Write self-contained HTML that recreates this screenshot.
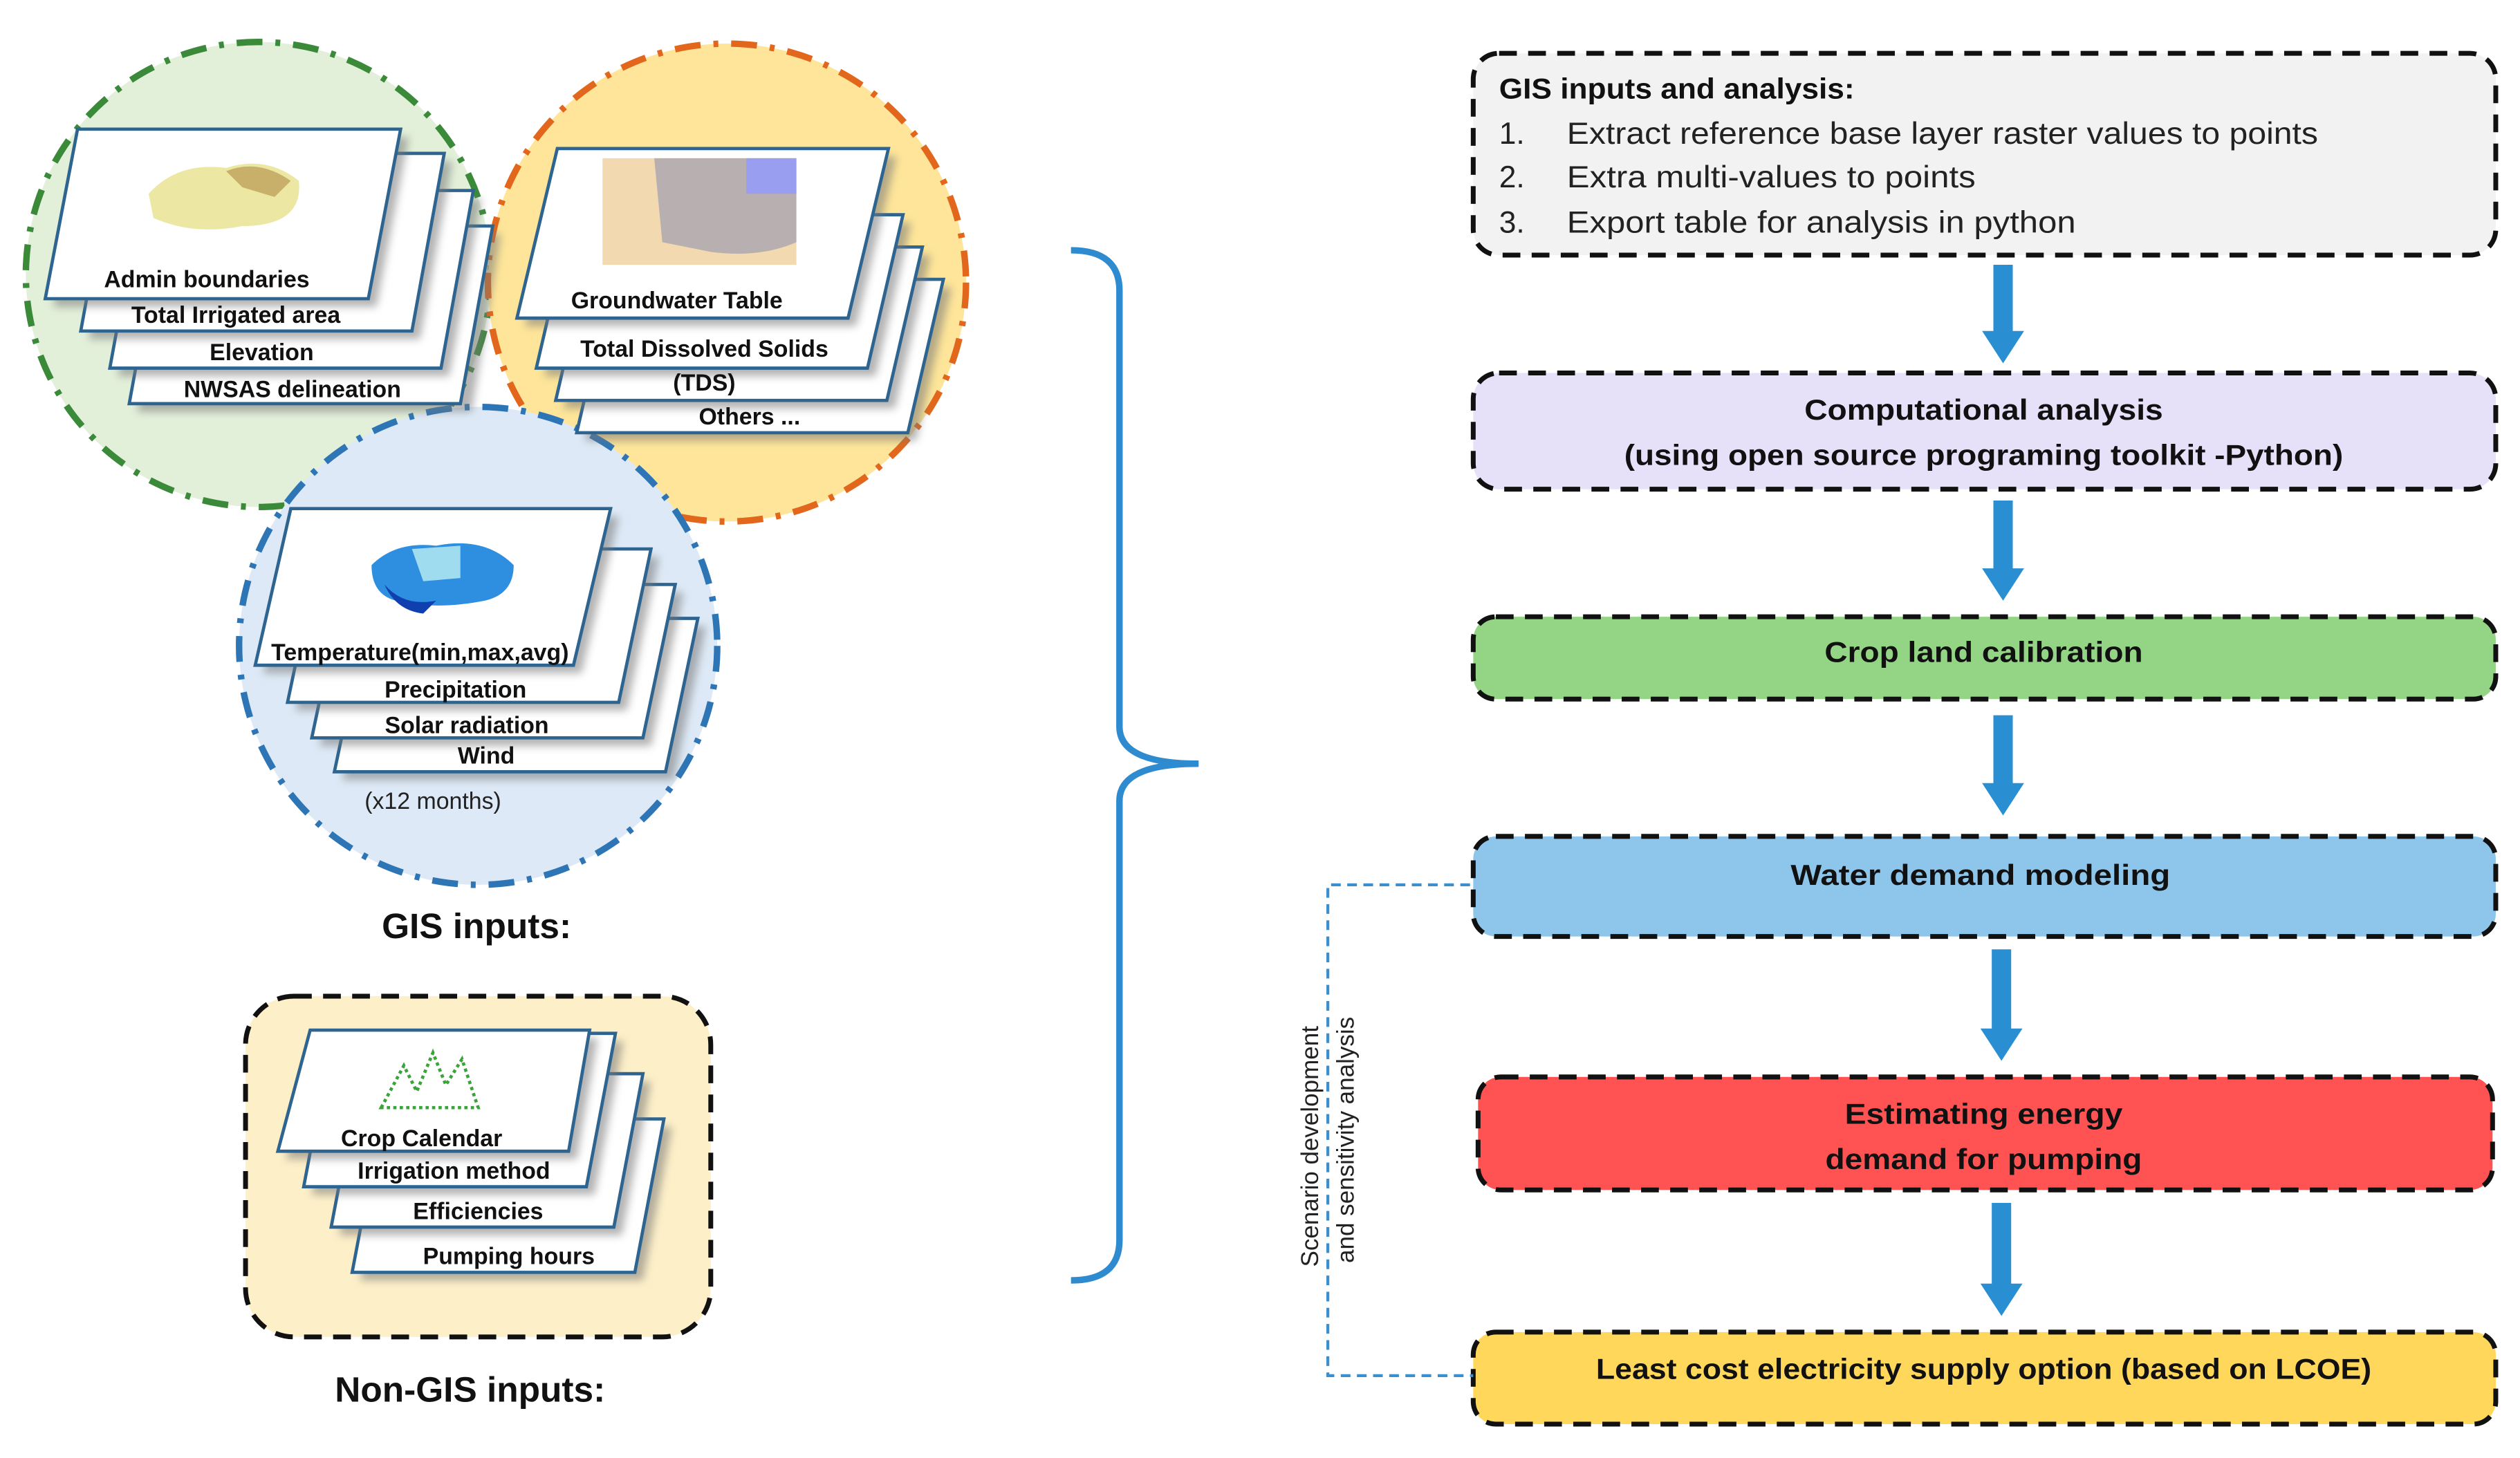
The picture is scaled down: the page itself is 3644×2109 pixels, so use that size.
<!DOCTYPE html>
<html><head><meta charset="utf-8"><style>
html,body{margin:0;padding:0;background:#fff;}
svg{display:block;}
text{font-family:"Liberation Sans",sans-serif;}
.c{font-weight:bold;font-size:14.5px;text-anchor:middle;fill:#111;}
.bx{font-weight:bold;font-size:18px;text-anchor:middle;fill:#111;}
.card{fill:#fff;stroke:#2e6490;stroke-width:2;}
.sh{fill:#777;opacity:.55;filter:url(#bl);}
</style></head><body>
<svg width="3644" height="2109" viewBox="0 0 1560 903" preserveAspectRatio="none" xmlns="http://www.w3.org/2000/svg">
<defs>
<filter id="bl" x="-10%" y="-10%" width="120%" height="130%"><feGaussianBlur stdDeviation="2.5"/></filter>
<marker id="m" viewBox="0 0 10 10" refX="5" refY="5" markerWidth="1" markerHeight="1"/>
</defs>

<!-- circles -->
<circle cx="160" cy="170" r="144" fill="#e2efd9" stroke="#3a8a3a" stroke-width="4" stroke-dasharray="16 8 3 8"/>
<circle cx="450" cy="175" r="148" fill="#fee599" stroke="#e2671c" stroke-width="4" stroke-dasharray="16 8 3 8"/>
<circle cx="296" cy="400" r="148" fill="#dde9f6" stroke="#2e75b6" stroke-width="4" stroke-dasharray="16 8 3 8"/>

<!-- green stack -->
<g>
<polygon class="sh" points="105,145 310,145 292,255 85,255"/>
<polygon class="card" points="100,140 305,140 285,250 80,250"/>
<polygon class="sh" points="93,123 298,123 278,233 73,233"/>
<polygon class="card" points="88,118 293,118 273,228 68,228"/>
<polygon class="sh" points="75,100 280,100 260,210 55,210"/>
<polygon class="card" points="70,95 275,95 255,205 50,205"/>
<polygon class="sh" points="53,85 253,85 233,190 33,190"/>
<polygon class="card" points="48,80 248,80 228,185 28,185"/>
<rect x="86" y="90" width="110" height="68" fill="#fff"/>
<path d="M92,120 Q110,100 140,104 Q165,96 185,112 Q188,140 150,140 Q120,146 95,135 Z" fill="#ece7a2"/>
<path d="M140,106 Q160,98 180,112 L170,122 L150,116 Z" fill="#c9b06a"/>
<text class="c" x="128" y="178">Admin boundaries</text>
<text class="c" x="146" y="200">Total Irrigated area</text>
<text class="c" x="162" y="223">Elevation</text>
<text class="c" x="181" y="246">NWSAS delineation</text>
</g>

<!-- orange stack -->
<g>
<polygon class="sh" points="384,178 589,178 567,273 362,273"/>
<polygon class="card" points="379,173 584,173 562,268 357,268"/>
<polygon class="sh" points="371,158 576,158 554,253 349,253"/>
<polygon class="card" points="366,153 571,153 549,248 344,248"/>
<polygon class="sh" points="359,138 564,138 542,233 337,233"/>
<polygon class="card" points="354,133 559,133 537,228 332,228"/>
<polygon class="sh" points="350,97 555,97 530,202 325,202"/>
<polygon class="card" points="345,92 550,92 525,197 320,197"/>
<rect x="373" y="98" width="120" height="66" fill="#f2d9b0"/>
<path d="M405,98 L493,98 L493,150 Q470,160 440,156 L410,150 Z" fill="#b8b0b0"/>
<rect x="462" y="98" width="31" height="22" fill="#9a9ef0"/>
<text class="c" x="419" y="191">Groundwater Table</text>
<text class="c" x="436" y="221">Total Dissolved Solids</text>
<text class="c" x="436" y="242">(TDS)</text>
<text class="c" x="464" y="263">Others ...</text>
</g>

<!-- blue stack -->
<g>
<polygon class="sh" points="232,388 437,388 417,483 212,483"/>
<polygon class="card" points="227,383 432,383 412,478 207,478"/>
<polygon class="sh" points="218,367 423,367 403,462 198,462"/>
<polygon class="card" points="213,362 418,362 398,457 193,457"/>
<polygon class="sh" points="203,345 408,345 388,440 183,440"/>
<polygon class="card" points="198,340 403,340 383,435 178,435"/>
<polygon class="sh" points="185,320 383,320 360,417 163,417"/>
<polygon class="card" points="180,315 378,315 355,412 158,412"/>
<rect x="224" y="322" width="96" height="66" fill="#fff"/>
<path d="M230,350 Q245,335 270,338 Q300,332 318,350 Q318,368 300,372 Q270,378 245,372 Q230,368 230,350 Z" fill="#2e8ee0"/>
<path d="M255,340 L285,338 L285,358 L262,360 Z" fill="#9fdcef"/>
<path d="M238,362 Q250,376 270,372 L262,380 Q245,378 238,362 Z" fill="#1040b0"/>
<text class="c" x="260" y="409">Temperature(min,max,avg)</text>
<text class="c" x="282" y="432">Precipitation</text>
<text class="c" x="289" y="454">Solar radiation</text>
<text class="c" x="301" y="473">Wind</text>
<text x="268" y="501" style="font-size:14.5px;text-anchor:middle;fill:#222">(x12 months)</text>
</g>

<text x="295" y="581" style="font-weight:bold;font-size:22px;text-anchor:middle;fill:#111">GIS inputs:</text>

<!-- non-GIS -->
<rect x="152" y="617" width="288" height="211" rx="30" fill="#fdefc8" stroke="#111" stroke-width="3" stroke-dasharray="11 7"/>
<g>
<polygon class="sh" points="241,698 416,698 398,793 223,793"/>
<polygon class="card" points="236,693 411,693 393,788 218,788"/>
<polygon class="sh" points="228,670 403,670 385,765 210,765"/>
<polygon class="card" points="223,665 398,665 380,760 205,760"/>
<polygon class="sh" points="211,645 386,645 368,740 193,740"/>
<polygon class="card" points="206,640 381,640 363,735 188,735"/>
<polygon class="sh" points="197,643 370,643 357,718 177,718"/>
<polygon class="card" points="192,638 365,638 352,713 172,713"/>
<rect x="230" y="644" width="72" height="48" fill="#fff"/>
<path d="M236,686 L250,660 L258,676 L268,652 L276,672 L286,656 L296,686 Z" fill="none" stroke="#3aa33a" stroke-width="2" stroke-dasharray="2 2"/>
<text class="c" x="261" y="710">Crop Calendar</text>
<text class="c" x="281" y="730">Irrigation method</text>
<text class="c" x="296" y="755">Efficiencies</text>
<text class="c" x="315" y="783">Pumping hours</text>
</g>
<text x="291" y="868" style="font-weight:bold;font-size:22px;text-anchor:middle;fill:#111">Non-GIS inputs:</text>

<!-- brace -->
<path d="M663,155 Q693,155 693,180 L693,450 Q693,473 742,473 Q693,473 693,496 L693,768 Q693,793 663,793" fill="none" stroke="#2e8bd0" stroke-width="4"/>

<!-- right boxes -->
<rect x="912" y="33" width="633" height="125" rx="16" fill="#f2f2f2" stroke="#111" stroke-width="3" stroke-dasharray="11 7"/>
<text x="928" y="61" style="font-weight:bold;font-size:18px;fill:#111" textLength="220" lengthAdjust="spacingAndGlyphs">GIS inputs and analysis:</text>
<g style="font-size:19px;fill:#222">
<text x="928" y="89">1.</text><text x="970" y="89" textLength="465" lengthAdjust="spacingAndGlyphs">Extract reference base layer raster values to points</text>
<text x="928" y="116">2.</text><text x="970" y="116" textLength="253" lengthAdjust="spacingAndGlyphs">Extra multi-values to points</text>
<text x="928" y="144">3.</text><text x="970" y="144" textLength="315" lengthAdjust="spacingAndGlyphs">Export table for analysis in python</text>
</g>

<rect x="912" y="231" width="633" height="72" rx="16" fill="#e6e0f8" stroke="#111" stroke-width="3" stroke-dasharray="11 7"/>
<text class="bx" x="1228" y="260" textLength="222" lengthAdjust="spacingAndGlyphs">Computational analysis</text>
<text class="bx" x="1228" y="288" textLength="445" lengthAdjust="spacingAndGlyphs">(using open source programing toolkit -Python)</text>

<rect x="912" y="382" width="633" height="51" rx="14" fill="#93d585" stroke="#111" stroke-width="3" stroke-dasharray="11 7"/>
<text class="bx" x="1228" y="410" textLength="197" lengthAdjust="spacingAndGlyphs">Crop land calibration</text>

<rect x="912" y="518" width="633" height="62" rx="14" fill="#8ec5ea" stroke="#111" stroke-width="3" stroke-dasharray="11 7"/>
<text class="bx" x="1226" y="548" textLength="235" lengthAdjust="spacingAndGlyphs">Water demand modeling</text>

<rect x="915" y="667" width="628" height="70" rx="14" fill="#ff5353" stroke="#111" stroke-width="3" stroke-dasharray="11 7"/>
<text class="bx" x="1228" y="696" textLength="172" lengthAdjust="spacingAndGlyphs">Estimating energy</text>
<text class="bx" x="1228" y="724" textLength="196" lengthAdjust="spacingAndGlyphs">demand for pumping</text>

<rect x="912" y="825" width="633" height="57" rx="14" fill="#ffd75a" stroke="#111" stroke-width="3" stroke-dasharray="11 7"/>
<text class="bx" x="1228" y="854" textLength="480" lengthAdjust="spacingAndGlyphs">Least cost electricity supply option (based on LCOE)</text>

<!-- arrows -->
<g fill="#2a8fd2">
<path d="M1234,164 L1246,164 L1246,205 L1253,205 L1240,225 L1227,205 L1234,205 Z"/>
<path d="M1234,310 L1246,310 L1246,352 L1253,352 L1240,372 L1227,352 L1234,352 Z"/>
<path d="M1234,443 L1246,443 L1246,485 L1253,485 L1240,505 L1227,485 L1234,485 Z"/>
<path d="M1233,588 L1245,588 L1245,637 L1252,637 L1239,657 L1226,637 L1233,637 Z"/>
<path d="M1233,745 L1245,745 L1245,795 L1252,795 L1239,815 L1226,795 L1233,795 Z"/>
</g>

<!-- scenario connector -->
<path d="M910,548 L822,548 L822,852 L912,852" fill="none" stroke="#3a8fd0" stroke-width="1.8" stroke-dasharray="6 4"/>
<g transform="translate(816,710) rotate(-90)"><text x="0" y="0" style="font-size:15px;text-anchor:middle;fill:#222">Scenario development</text></g>
<g transform="translate(838,706) rotate(-90)"><text x="0" y="0" style="font-size:15px;text-anchor:middle;fill:#222">and sensitivity analysis</text></g>
</svg>
</body></html>
